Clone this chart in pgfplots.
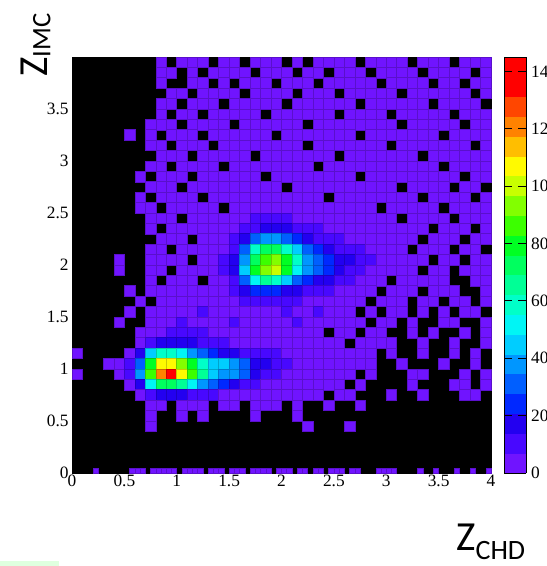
\documentclass[border=0pt]{standalone}
\usepackage{fontspec}
\setmainfont{Liberation Serif}
\newfontfamily\calibri{Carlito}
\usepackage{pgfplots}
\usepackage{pgfplotstable}
\pgfplotsset{compat=1.18}
\pgfplotsset{
  /pgf/number format/assume math mode=true,
  colormap={rootpal}{
    rgb255=(112,20,255) rgb255=(72,8,255) rgb255=(35,0,240) rgb255=(0,40,255)
    rgb255=(0,95,255) rgb255=(0,150,255) rgb255=(0,205,255) rgb255=(0,245,245)
    rgb255=(0,255,200) rgb255=(0,255,150) rgb255=(0,255,95) rgb255=(0,255,35)
    rgb255=(60,255,0) rgb255=(130,255,0) rgb255=(200,255,0) rgb255=(255,250,0)
    rgb255=(255,190,0) rgb255=(255,130,0) rgb255=(255,70,0) rgb255=(255,0,0)
    rgb255=(255,0,0)
  },
}
% rows from top (y 3.9-4.0) to bottom (y 0.0-0.1); columns x 0.0-0.1 ... 3.9-4.0
\pgfplotstableread[header=false]{
0 0 0 0 0 0 0 0 3 0 3 3 3 0 3 3 0 3 3 3 0 3 0 3 3 3 3 0 3 3 3 3 0 3 3 3 0 3 3 3
0 0 0 0 0 0 0 0 3 3 0 3 0 3 3 3 3 0 3 3 3 0 3 3 0 3 3 3 0 3 3 3 3 0 3 3 3 3 0 3
0 0 0 0 0 0 0 0 3 0 0 3 3 0 3 0 3 3 3 0 3 3 3 0 3 3 3 3 3 0 3 3 3 3 0 3 3 0 3 3
0 0 0 0 0 0 0 0 0 3 3 0 3 3 3 3 0 3 3 3 3 0 3 3 3 0 3 3 3 3 3 0 3 3 3 3 3 3 0 3
0 0 0 0 0 0 0 0 3 3 0 3 3 3 0 3 3 3 3 3 0 3 3 3 3 3 3 0 3 3 3 3 3 3 0 3 3 3 3 0
0 0 0 0 0 0 0 0 3 0 3 3 0 3 3 3 3 3 0 3 3 3 3 3 3 0 3 3 3 3 0 3 3 3 3 3 0 3 3 3
0 0 0 0 0 0 0 3 3 3 0 3 3 3 3 0 3 3 3 3 3 3 0 3 3 3 3 3 3 3 3 0 3 3 3 3 3 0 3 3
0 0 0 0 0 3 0 3 0 3 3 3 0 3 3 3 3 3 3 0 3 3 3 3 3 3 3 0 3 3 3 3 3 3 3 0 3 3 3 3
0 0 0 0 0 0 0 3 3 0 3 3 3 0 3 3 3 3 3 3 3 3 0 3 3 3 3 3 3 3 0 3 3 3 3 3 3 3 0 3
0 0 0 0 0 0 0 0 3 3 3 0 3 3 3 3 3 0 3 3 3 3 3 3 3 0 3 3 3 3 3 3 3 0 3 3 3 3 3 3
0 0 0 0 0 0 0 3 3 0 3 3 3 3 0 3 3 3 3 3 3 3 3 0 3 3 3 3 3 3 3 3 3 3 3 0 3 3 3 3
0 0 0 0 0 0 3 0 3 3 3 0 3 3 3 3 3 3 0 3 3 3 3 3 3 3 3 0 3 3 3 3 3 3 3 3 3 0 3 3
0 0 0 0 0 0 0 3 3 3 0 3 3 3 3 3 3 3 3 3 0 3 3 3 3 3 3 3 3 3 3 0 3 3 3 3 0 3 3 0
0 0 0 0 0 0 3 0 3 3 3 3 0 3 3 3 3 3 3 3 3 3 3 3 0 3 3 3 3 3 3 3 3 0 3 3 3 3 0 3
0 0 0 0 0 0 3 3 0 3 3 3 3 3 0 3 3 3 3 3 3 3 3 3 3 3 3 3 3 0 3 3 3 3 3 0 3 3 3 3
0 0 0 0 0 0 0 3 3 3 0 3 3 3 3 3 3 10 10 10 10 3 3 3 3 3 3 3 3 3 3 0 3 3 3 3 0 3 3 3
0 0 0 0 0 0 0 3 0 3 3 3 3 3 3 3 10 10 17 17 17 10 10 10 3 3 3 3 3 3 3 3 3 3 0 3 3 3 0 3
0 0 0 0 0 0 0 0 3 3 3 0 3 3 3 10 17 32 40 40 32 25 17 10 10 10 3 3 3 3 3 3 3 0 3 3 3 0 3 3
0 0 0 0 0 0 0 3 3 0 3 3 3 3 3 10 32 61 76 76 61 47 32 25 17 10 10 10 3 3 3 3 0 3 3 3 0 3 3 0
0 0 0 0 3 0 0 3 3 3 3 0 3 3 10 17 40 76 90 97 83 61 40 32 25 17 17 10 10 3 3 3 3 3 0 3 3 0 3 3
0 0 0 0 3 0 0 3 3 0 3 3 3 3 10 17 47 83 97 105 83 54 40 32 25 17 10 10 3 3 3 3 3 0 3 3 0 3 3 3
0 0 0 0 0 0 0 3 0 3 3 3 0 3 3 10 32 54 68 61 47 32 25 17 17 10 10 3 3 3 0 3 3 3 3 3 0 0 3 3
0 0 0 0 0 3 0 3 3 3 3 3 3 3 3 10 17 25 25 25 17 17 10 10 10 3 3 3 3 0 3 3 3 0 3 3 3 0 0 3
0 0 0 0 0 0 3 0 3 3 3 3 3 3 3 3 10 10 10 10 10 10 3 3 3 3 3 3 0 3 3 3 0 3 3 0 3 3 0 3
0 0 0 0 0 3 0 3 3 3 3 3 10 3 3 3 3 3 3 3 10 3 3 10 3 3 3 0 3 0 3 3 0 3 0 3 0 3 3 0
0 0 0 0 3 0 0 3 3 3 10 3 3 3 3 10 3 3 3 3 3 10 3 3 3 3 3 3 0 3 3 0 3 0 0 3 3 0 0 3
0 0 0 0 0 0 3 3 3 10 10 10 10 3 3 3 3 3 3 3 3 3 3 3 0 3 3 0 3 3 0 0 3 0 3 0 0 3 0 3
0 0 0 0 0 0 3 10 17 17 17 17 10 10 10 3 3 3 3 3 3 3 3 3 3 3 0 3 3 3 3 0 0 3 0 0 3 0 0 3
3 0 0 0 0 3 17 47 61 61 54 40 32 25 17 17 10 10 10 10 3 3 3 3 3 3 3 3 3 0 3 0 0 3 0 0 3 0 3 0
0 0 0 3 3 10 32 83 112 112 97 83 61 47 47 40 32 17 17 10 10 3 3 3 3 3 3 3 3 0 0 3 0 0 0 3 0 0 3 0
3 0 0 0 3 10 40 90 126 141 112 90 68 47 40 40 32 17 10 10 3 3 3 3 3 3 3 0 3 0 0 0 3 3 0 0 0 3 0 3
0 0 0 0 0 3 17 54 76 76 68 54 40 32 25 17 10 10 3 3 3 3 3 3 3 3 0 3 0 0 0 0 3 0 0 0 3 3 0 3
0 0 0 0 0 0 3 10 17 17 17 10 10 10 3 3 3 3 3 3 3 3 3 3 0 3 3 0 0 0 3 0 0 3 0 0 0 3 3 0
0 0 0 0 0 0 0 3 3 0 3 3 3 0 3 3 0 3 3 3 0 3 0 0 3 0 0 3 0 0 0 0 0 0 0 0 0 0 0 0
0 0 0 0 0 0 0 3 0 0 3 0 3 0 0 0 0 3 0 0 0 3 0 0 0 0 0 0 0 0 0 0 0 0 0 0 0 0 0 0
0 0 0 0 0 0 0 3 0 0 0 0 0 0 0 0 0 0 0 0 0 0 3 0 0 0 3 0 0 0 0 0 0 0 0 0 0 0 0 0
0 0 0 0 0 0 0 0 0 0 0 0 0 0 0 0 0 0 0 0 0 0 0 0 0 0 0 0 0 0 0 0 0 0 0 0 0 0 0 0
0 0 0 0 0 0 0 0 0 0 0 0 0 0 0 0 0 0 0 0 0 0 0 0 0 0 0 0 0 0 0 0 0 0 0 0 0 0 0 0
0 0 0 0 0 0 0 0 0 0 0 0 0 0 0 0 0 0 0 0 0 0 0 0 0 0 0 0 0 0 0 0 0 0 0 0 0 0 0 0
0 0 0 0 0 0 0 0 0 0 0 0 0 0 0 0 0 0 0 0 0 0 0 0 0 0 0 0 0 0 0 0 0 0 0 0 0 0 0 0
}\zdata

\begin{document}
\begin{tikzpicture}
\begin{axis}[
  at={(0pt,0pt)}, anchor=south west,
  scale only axis, width=314.25pt, height=312pt,
  xmin=0, xmax=4, ymin=0, ymax=4,
  axis background/.style={fill=black},
  axis line style={black},
  xtick={0,0.5,1,1.5,2,2.5,3,3.5,4},
  xticklabels={0,0.5,1,1.5,2,2.5,3,3.5,4},
  ytick={0,0.5,1,1.5,2,2.5,3,3.5},
  yticklabels={0,0.5,1,1.5,2,2.5,3,3.5},
  major tick length=0pt,
  tick label style={font=\fontsize{13}{13}\selectfont},
  xticklabel style={yshift=2pt},
  yticklabel style={xshift=1pt},
  colormap name=rootpal,
  point meta min=0, point meta max=145,
  restrict y to domain=0:4,
  colorbar,
  colorbar style={
    at={(parent axis.north east)}, anchor=north west, xshift=1.5pt,
    scale only axis, width=16.5pt, height=312pt,
    colormap access=piecewise constant,
    xtick=\empty, xticklabels={},
    ytick={0,20,40,60,80,100,120,140},
    yticklabels={0,20,40,60,80,100,120,140},
    yticklabel pos=right,
    tick align=inside, major tick length=6pt,
    yticklabel style={font=\fontsize{13}{13}\selectfont},
    axis line style={black, line width=0.4pt},
    tick style={black, line width=0.6pt},
  },
]
\pgfplotsinvokeforeach{0,...,39}{
  \addplot[scatter, only marks, mark=square*, mark size=3.93pt,
    point meta=explicit]
    table[x expr={#1*0.1+0.05},
          y expr={\thisrowno{#1}>0 ? (39-\lineno)*0.1+0.05 : -1},
          meta expr={floor(\thisrowno{#1}/7.25)*7.25}] {\zdata};
}
\addplot[scatter, only marks, mark=square*, mark size=1.96pt, point meta=explicit]
  coordinates {
  (0.225,0.025) [0] (0.575,0.025) [0] (0.625,0.025) [0] (0.675,0.025) [0]
  (0.775,0.025) [0] (0.825,0.025) [0] (0.875,0.025) [0] (0.925,0.025) [0]
  (0.975,0.025) [0] (1.075,0.025) [0] (1.125,0.025) [0] (1.175,0.025) [0]
  (1.225,0.025) [0] (1.325,0.025) [0] (1.375,0.025) [0] (1.425,0.025) [0]
  (1.525,0.025) [0] (1.575,0.025) [0] (1.625,0.025) [0] (1.725,0.025) [0]
  (1.775,0.025) [0] (1.825,0.025) [0] (1.875,0.025) [0] (1.975,0.025) [0]
  (2.025,0.025) [0] (2.075,0.025) [0] (2.175,0.025) [0] (2.225,0.025) [0]
  (2.325,0.025) [0] (2.375,0.025) [0] (2.475,0.025) [0] (2.525,0.025) [0]
  (2.575,0.025) [0] (2.675,0.025) [0] (2.725,0.025) [0] (2.925,0.025) [0]
  (2.975,0.025) [0] (3.025,0.025) [0] (3.075,0.025) [0] (3.325,0.025) [0]
  (3.475,0.025) [0] (3.675,0.025) [0] (3.825,0.025) [0] (3.975,0.025) [0]
  };
\end{axis}
\node[anchor=base west, inner sep=0pt] at (288pt,-57.75pt)
  {\calibri\fontsize{31}{31}\selectfont Z\raisebox{-6.75pt}{\fontsize{21}{21}\selectfont CHD}};
\node[rotate=90, anchor=base west, inner sep=0pt] at (-18.75pt,297pt)
  {\calibri\fontsize{31}{31}\selectfont Z\raisebox{-2.5pt}{\fontsize{20}{20}\selectfont IMC}};
\fill[green!50!white!25] (-54pt,-69.75pt) rectangle (-9.75pt,-66pt);
\pgfresetboundingbox
\path[use as bounding box] (-54pt,-69.75pt) rectangle (355.5pt,354.75pt);
\end{tikzpicture}
\end{document}
